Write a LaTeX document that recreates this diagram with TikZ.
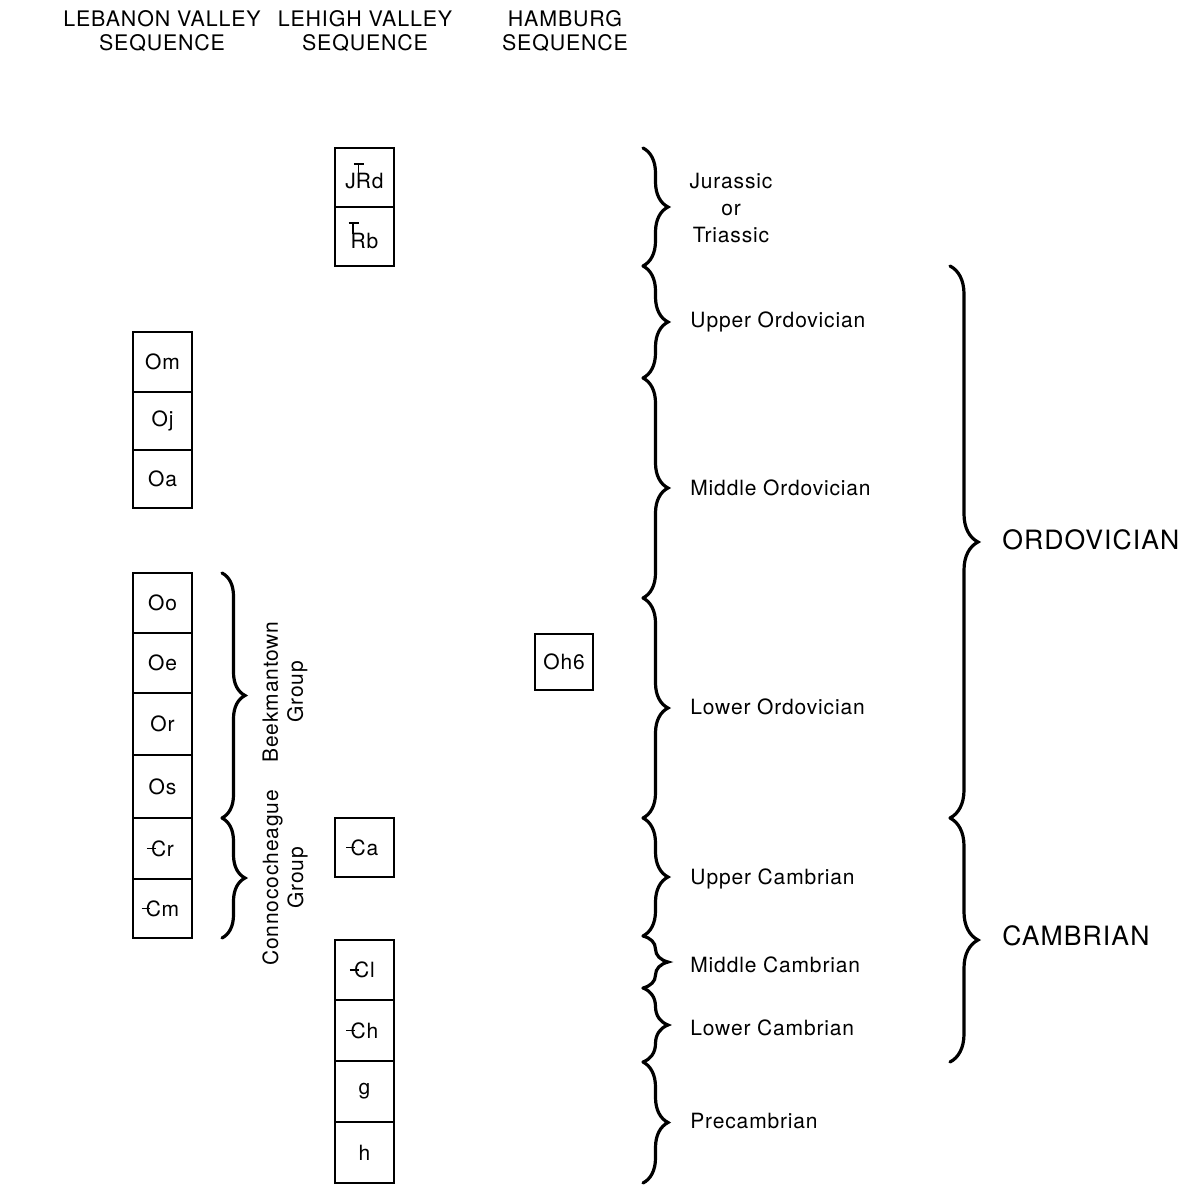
\documentclass[tikz,border=0pt]{standalone}
\usepackage{fontspec}
\setmainfont[LetterSpace=4]{TeX Gyre Heros}
\usetikzlibrary{decorations.pathreplacing}
\newcommand\camb{\makebox[0pt][l]{\hspace{-0.2em}\rule[0.33em]{0.42em}{0.075em}}C}
\newcommand\trias{\smash{\makebox[0pt][l]{\hspace{-0.1em}\rule[1.15em]{0.5em}{0.075em}}\makebox[0pt][l]{\hspace{0.08em}\rule[0.68em]{0.08em}{0.52em}}}R}
\tikzset{
  box/.style={draw, line width=1pt, minimum width=29.5pt, inner sep=0pt, font=\fontsize{10.5}{12}\selectfont},
  lbl/.style={anchor=west, inner sep=0pt, font=\fontsize{10.5}{13.3}\selectfont},
  big/.style={anchor=west, inner sep=0pt, font=\fontsize{13.3}{16}\selectfont},
  hdr/.style={align=center, inner sep=0pt, font=\fontsize{10.7}{12}\selectfont},
  brc/.style={decorate, line width=1.6pt, line cap=round, decoration={brace, amplitude=#1}},
}
\begin{document}
\begin{tikzpicture}[x=0.5pt, y=-0.5pt]
\useasboundingbox (0,0) rectangle (1199,1194);
% headers
\node[hdr] (h1) at (162,31) {LEBANON VALLEY\\SEQUENCE};
\node[hdr] (h2) at (365,31) {LEHIGH VALLEY\\SEQUENCE};
\node[hdr] (h3) at (565,31) {HAMBURG\\SEQUENCE};
% Lebanon valley top
\node[box, minimum height=30pt] (om) at (162.5,362) {Om};
\node[box, minimum height=29pt] (oj) at (162.5,421) {Oj};
\node[box, minimum height=29pt] (oa) at (162.5,479) {Oa};
% Lebanon valley bottom
\node[box, minimum height=30pt] (oo) at (162.5,603) {Oo};
\node[box, minimum height=30pt] (oe) at (162.5,663) {Oe};
\node[box, minimum height=31pt] (or) at (162.5,724) {Or};
\node[box, minimum height=31.5pt] (os) at (162.5,786.5) {Os};
\node[box, minimum height=30.5pt] (cr) at (162.5,848.5) {\camb r};
\node[box, minimum height=29.5pt] (cm) at (162.5,908.5) {\camb m};
% Lehigh valley
\node[box, minimum height=29.5pt] (jtrd) at (364.5,177.5) {\raisebox{-2pt}[\height][\depth]{J\trias d}};
\node[box, minimum height=29.5pt] (trb) at (364.5,236.5) {\raisebox{-2pt}[\height][\depth]{\trias b}};
\node[box, minimum height=29.5pt] (ca) at (364.5,847.5) {\camb a};
\node[box, minimum height=30pt] (cl) at (364.5,970) {\camb l};
\node[box, minimum height=30.5pt] (ch) at (364.5,1030.5) {\camb h};
\node[box, minimum height=30.5pt] (g) at (364.5,1091.5) {g};
\node[box, minimum height=30.5pt] (hh) at (364.5,1152.5) {h};
% Hamburg
\node[box, minimum width=29pt, minimum height=28pt] (oh6) at (564,662) {Oh6};
% group braces
\coordinate (bkt) at (222,573);
\coordinate (bkb) at (222,818);
\coordinate (cnb) at (222,938);
\draw[brc=11.5pt] (bkt) -- (bkb);
\draw[brc=11.5pt] (bkb) -- (cnb);
\node[hdr, rotate=90, font=\fontsize{10.5}{12.5}\selectfont] (bek) at (285,692) {Beekmantown\\Group};
\node[hdr, rotate=90, font=\fontsize{10.5}{12.5}\selectfont] (con) at (285,878) {Connococheague\\Group};
% period braces
\coordinate (p0) at (643,148);
\coordinate (p1) at (643,266);
\coordinate (p2) at (643,378);
\coordinate (p3) at (643,598);
\coordinate (p4) at (643,818);
\coordinate (p5) at (643,936);
\coordinate (p6) at (643,988);
\coordinate (p7) at (643,1062);
\coordinate (p8) at (643,1183);
\draw[brc=12.5pt] (p0) -- (p1);
\draw[brc=12.5pt] (p1) -- (p2);
\draw[brc=12.5pt] (p2) -- (p3);
\draw[brc=12.5pt] (p3) -- (p4);
\draw[brc=12.5pt] (p4) -- (p5);
\draw[brc=12.5pt] (p5) -- (p6);
\draw[brc=12.5pt] (p6) -- (p7);
\draw[brc=12.5pt] (p7) -- (p8);
\node[hdr, font=\fontsize{10.5}{13.3}\selectfont] (jur) at (731,208) {Jurassic\\or\\Triassic};
\node[lbl] (uo) at (690,322) {Upper Ordovician};
\node[lbl] (mo) at (690,488) {Middle Ordovician};
\node[lbl] (lo) at (690,707) {Lower Ordovician};
\node[lbl] (uc) at (690,879) {Upper Cambrian};
\node[lbl] (mc) at (690,965) {Middle Cambrian};
\node[lbl] (lc) at (690,1028) {Lower Cambrian};
\node[lbl] (pc) at (690,1121) {Precambrian};
% system braces
\coordinate (s0) at (950,266);
\coordinate (s1) at (950,818);
\coordinate (s2) at (950,1062);
\draw[brc=14pt] (s0) -- (s1);
\draw[brc=14pt] (s1) -- (s2);
\node[big] (ord) at (1002,540) {ORDOVICIAN};
\node[big] (cam) at (1002,936) {CAMBRIAN};
\end{tikzpicture}
\end{document}
